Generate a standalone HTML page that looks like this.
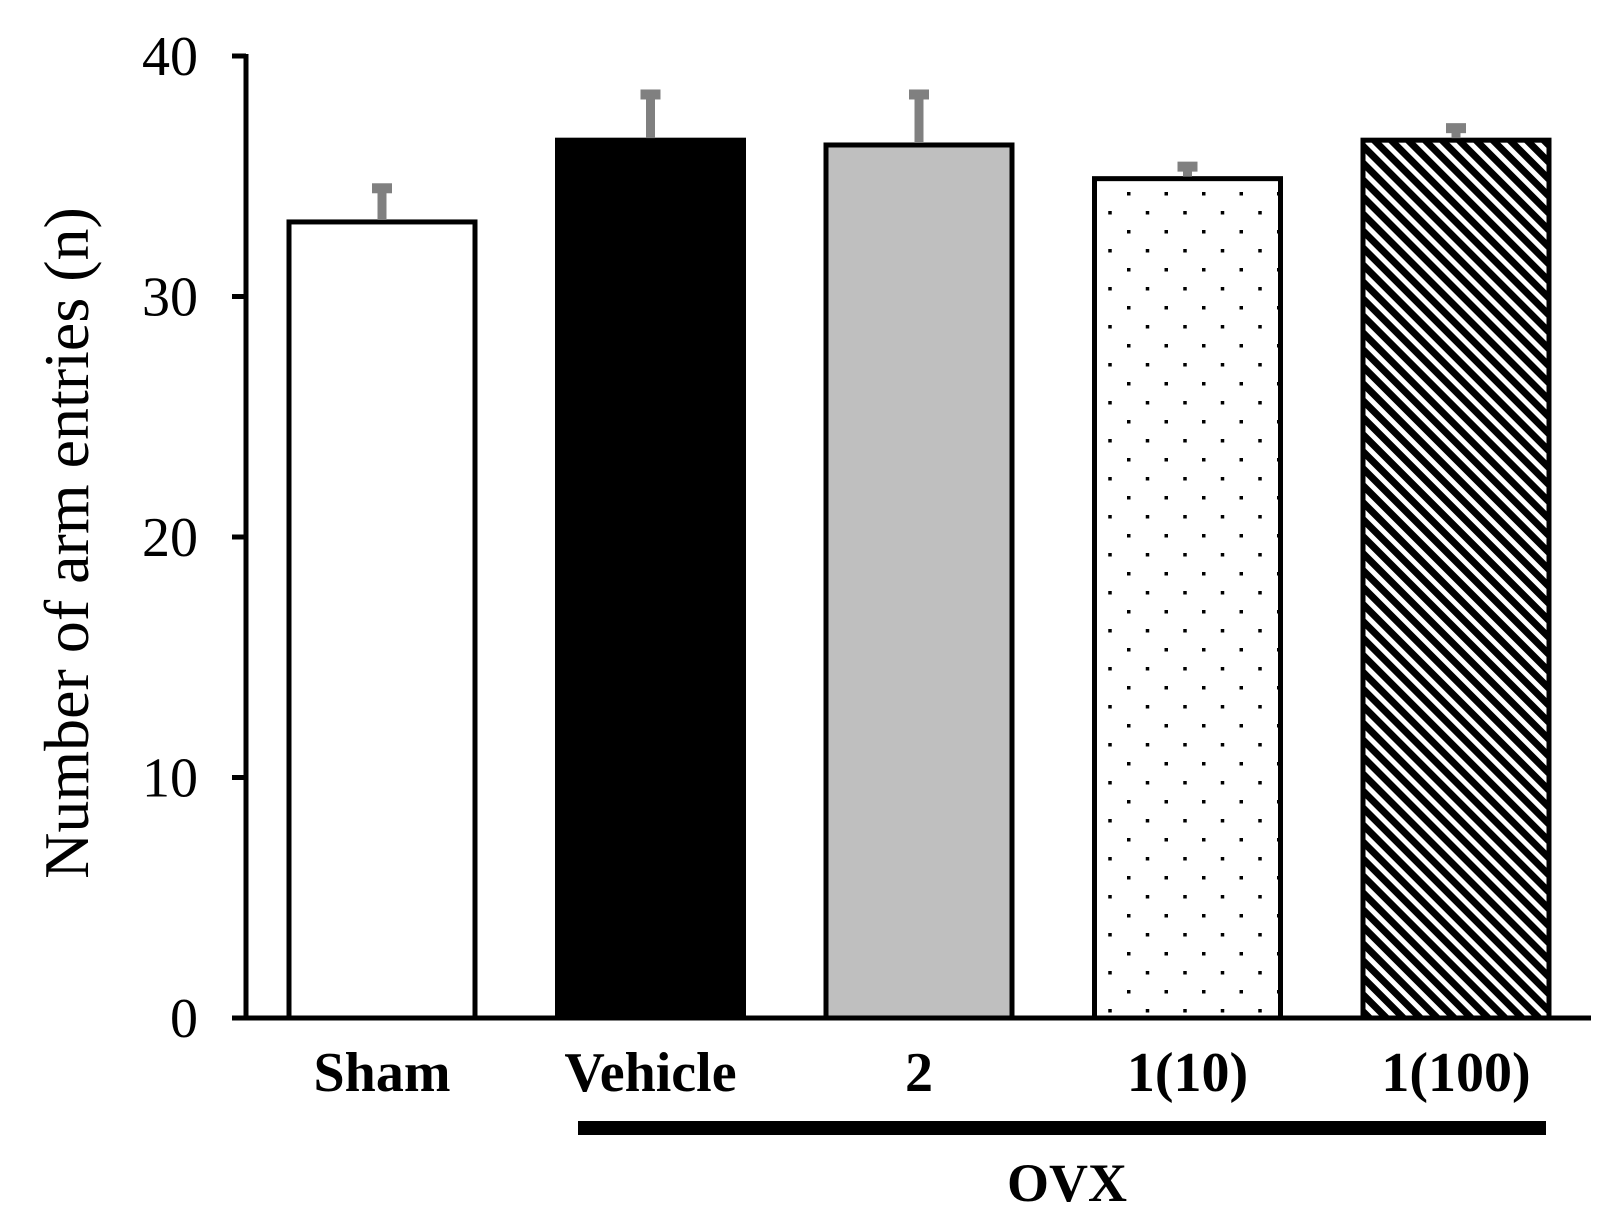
<!DOCTYPE html>
<html><head><meta charset="utf-8"><style>
html,body{margin:0;padding:0;background:#fff;}
svg{display:block;}
text{font-family:"Liberation Serif",serif;fill:#000;}
</style></head><body>
<svg id="chart" width="1624" height="1230" viewBox="0 0 1624 1230" xmlns="http://www.w3.org/2000/svg">
<defs>
<pattern id="dots" patternUnits="userSpaceOnUse" width="37.5" height="38" x="0" y="0">
<rect x="2" y="2" width="3.5" height="3.5" fill="#000"/>
<rect x="20.75" y="21" width="3.5" height="3.5" fill="#000"/>
</pattern>
<pattern id="hatch" patternUnits="userSpaceOnUse" width="12" height="12" patternTransform="rotate(-45)">
<rect x="0" y="0" width="12" height="12" fill="#000"/>
<rect x="0" y="0" width="5" height="12" fill="#fff"/>
</pattern>
</defs>
<g id="plot"></g>
<text transform="translate(88,543) rotate(-90)" text-anchor="middle" font-size="64">Number of arm entries (n)</text>
<rect x="578" y="1121" width="968" height="14" fill="#000"/>
<text x="1067" y="1201" text-anchor="middle" font-size="54" font-weight="bold">OVX</text>
</svg>
<script>
const categories = ["Sham", "Vehicle", "2", "1(10)", "1(100)"];
const means = [33.1, 36.5, 36.3, 34.9, 36.5];
const errors = [1.4, 1.9, 2.1, 0.5, 0.5];
const yTicks = [0, 10, 20, 30, 40];
const fills = ["#fff", "#000", "#bfbfbf", "url(#dots)", "url(#hatch)"];

const NS = "http://www.w3.org/2000/svg";
const g = document.getElementById("plot");
const x0 = 246, bandW = 268.5, barW = 186, y0 = 1018, pxPerUnit = 24.05;
const y = v => y0 - v * pxPerUnit;
const xBand = i => x0 + 43 + i * bandW;
function mk(tag, attrs) { const e = document.createElementNS(NS, tag); for (const k in attrs) e.setAttribute(k, attrs[k]); g.appendChild(e); return e; }

categories.forEach((c, i) => {
  const bx = xBand(i), top = y(means[i]);
  const bar = mk("rect", {x: bx, y: top, width: barW, height: y0 - top, fill: fills[i], stroke: "#000", "stroke-width": 5});
  
  
  const cx = bx + barW / 2, et = y(means[i] + errors[i]);
  const el = mk("line", {x1: cx, x2: cx, y1: top - 2, y2: et, stroke: "#808080", "stroke-width": 9});
  
  
  const cap = mk("rect", {x: cx - 10, y: et - 5, width: 20, height: 10, fill: "#808080"});
  
  
  const t = mk("text", {x: cx, y: 1091, "text-anchor": "middle", "font-size": 56, "font-weight": "bold"});
  t.textContent = c;
  
  
});

const ax = mk("line", {x1: x0, x2: x0, y1: y(40) - 2, y2: y0 + 2, stroke: "#000", "stroke-width": 5});


const xa = mk("line", {x1: x0, x2: 1591, y1: y0, y2: y0, stroke: "#000", "stroke-width": 5});


yTicks.forEach(v => {
  const tk = mk("line", {x1: x0 - 14, x2: x0, y1: y(v), y2: y(v), stroke: "#000", "stroke-width": 5});
  
  
  const t = mk("text", {x: 198, y: y(v) + 19, "text-anchor": "end", "font-size": 56});
  t.textContent = v;
  
  
});
</script>
</body></html>
